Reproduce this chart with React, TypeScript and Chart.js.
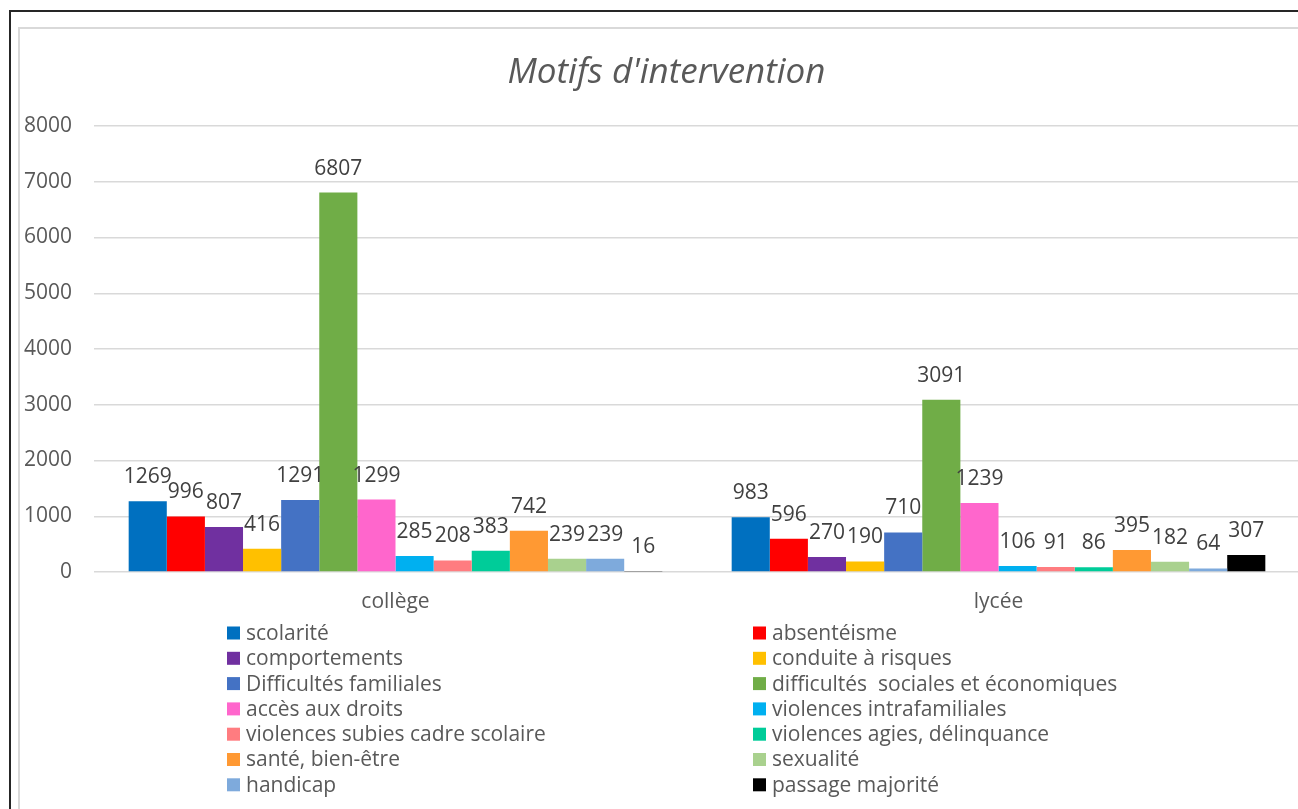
import React, { useEffect, useRef } from 'react';
import { Chart, registerables } from 'chart.js';

Chart.register(...registerables);

const categories = ['collège', 'lycée'];
const seriesNames = [
  'scolarité',
  'absentéisme',
  'comportements',
  'conduite à risques',
  'Difficultés familiales',
  'difficultés  sociales et économiques',
  'accès aux droits',
  'violences intrafamiliales',
  'violences subies cadre scolaire',
  'violences agies, délinquance',
  'santé, bien-être',
  'sexualité',
  'handicap',
  'passage majorité',
];
const collegeValues = [1269, 996, 807, 416, 1291, 6807, 1299, 285, 208, 383, 742, 239, 239, 16];
const lyceeValues = [983, 596, 270, 190, 710, 3091, 1239, 106, 91, 86, 395, 182, 64, 307];
const seriesColors = [
  '#0070C0',
  '#FF0000',
  '#7030A0',
  '#FFC000',
  '#4472C4',
  '#70AD47',
  '#FF66CC',
  '#00B0F0',
  '#FF7C80',
  '#00CC99',
  '#FF9933',
  '#A9D18E',
  '#7EAADC',
  '#000000',
];
const titleText = "Motifs d'intervention";
const yMin = 0;
const yMax = 8000;
const yStep = 1000;

const FONT = '"Open Sans", "Liberation Sans", sans-serif';

const overlayPlugin = {
  id: 'overlay',
  afterDatasetsDraw(chart: any) {
    const ctx = chart.ctx;
    ctx.save();
    ctx.font = `21px ${FONT}`;
    ctx.fillStyle = '#404040';
    ctx.textAlign = 'center';
    ctx.textBaseline = 'alphabetic';
    chart.data.datasets.forEach((ds: any, i: number) => {
      const meta = chart.getDatasetMeta(i);
      meta.data.forEach((bar: any, j: number) => {
        const v = ds.data[j];
        ctx.fillText(String(v), bar.x, bar.y - 18);
      });
    });
    ctx.restore();
  },
  afterDraw(chart: any) {
    const ctx = chart.ctx;
    ctx.save();
    // title
    ctx.font = `italic 35px ${FONT}`;
    ctx.fillStyle = '#595959';
    ctx.textAlign = 'center';
    ctx.textBaseline = 'alphabetic';
    ctx.fillText(titleText, chart.width / 2, 54);
    // legend in two columns
    const area = chart.chartArea;
    const colX = [207, 733];
    const firstRow = area.bottom + 61;
    const rowH = 25.3;
    ctx.font = `21px ${FONT}`;
    ctx.textAlign = 'left';
    ctx.textBaseline = 'middle';
    chart.data.datasets.forEach((ds: any, i: number) => {
      const col = i % 2;
      const row = Math.floor(i / 2);
      const x = colX[col];
      const y = firstRow + row * rowH;
      ctx.fillStyle = ds.backgroundColor;
      ctx.fillRect(x, y - 6.5, 13, 13);
      ctx.fillStyle = '#595959';
      ctx.fillText(ds.label, x + 19, y + 1);
    });
    ctx.restore();
  },
};

export default function App() {
  const canvasRef = useRef<HTMLCanvasElement | null>(null);

  useEffect(() => {
    if (!canvasRef.current) return;
    const datasets = seriesNames.map((name, i) => ({
      label: name,
      data: [collegeValues[i], lyceeValues[i]],
      backgroundColor: seriesColors[i],
      borderWidth: 0,
      categoryPercentage: 0.885,
      barPercentage: 1.0,
    }));
    const chart = new Chart(canvasRef.current, {
      type: 'bar',
      data: { labels: categories, datasets },
      options: {
        responsive: false,
        animation: false,
        layout: { padding: { top: 97, right: 13, bottom: 178, left: 0 } },
        plugins: {
          legend: { display: false },
          title: { display: false },
          tooltip: { enabled: false },
        },
        scales: {
          x: {
            grid: { display: false, drawTicks: false },
            border: { display: false },
            ticks: {
              color: '#595959',
              font: { family: FONT, size: 21 },
              padding: 17,
            },
            afterFit: (scale: any) => {
              scale.height = 60;
            },
          },
          y: {
            min: yMin,
            max: yMax,
            grid: { color: '#D9D9D9', lineWidth: 1.5, drawTicks: false },
            border: { display: false },
            ticks: {
              stepSize: yStep,
              color: '#595959',
              font: { family: FONT, size: 21 },
              padding: 22,
              callback: (v: any) => String(v),
            },
            afterFit: (scale: any) => {
              scale.width = 74;
            },
          },
        },
      },
      plugins: [overlayPlugin],
    });
    return () => chart.destroy();
  }, []);

  return (
    <div
      style={{
        position: 'absolute',
        left: 0,
        top: 0,
        width: 1298,
        height: 809,
        overflow: 'hidden',
        background: '#ffffff',
      }}
    >
      <div
        style={{
          position: 'absolute',
          left: 9,
          top: 10,
          width: 1400,
          height: 900,
          borderLeft: '2px solid #262626',
          borderTop: '2px solid #262626',
        }}
      />
      <div
        style={{
          position: 'absolute',
          left: 18,
          top: 27,
          width: 1400,
          height: 900,
          borderLeft: '2px solid #D9D9D9',
          borderTop: '2px solid #D9D9D9',
        }}
      />
      <canvas
        ref={canvasRef}
        width={1293}
        height={781}
        style={{ position: 'absolute', left: 20, top: 29, width: 1293, height: 781 }}
      />
    </div>
  );
}
